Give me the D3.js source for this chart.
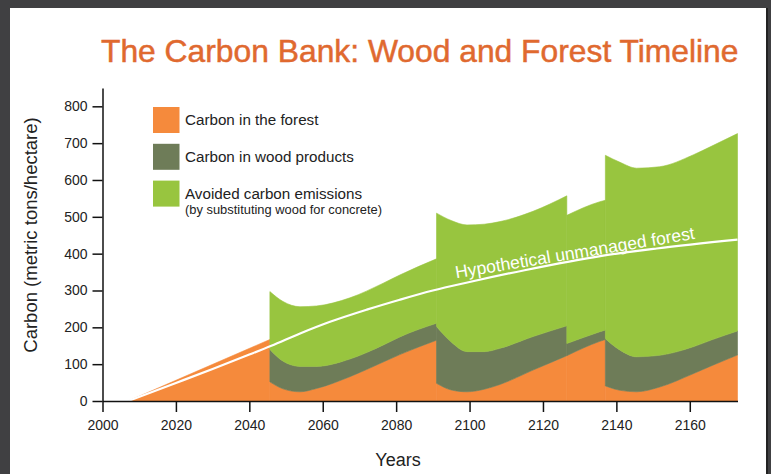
<!DOCTYPE html>
<html>
<head>
<meta charset="utf-8">
<script src="https://cdn.jsdelivr.net/npm/d3@7"></script>
<style>
  body { margin: 0; background: #404042; }
  svg { display: block; font-family: "Liberation Sans", Arial, Helvetica, sans-serif; }
</style>
</head>
<body>
<svg width="771" height="474"></svg>
<script>
// ---- data ----
// a year listed twice is a harvest: value just before, then just after
const years   = [2007, 2045.6, 2045.6, 2049.2, 2053.8, 2058.3, 2067.4, 2076.5, 2081, 2091,
                 2091, 2095, 2099.3, 2104, 2108.3, 2117.3, 2126.5, 2126.5, 2135.5, 2137,
                 2137, 2141, 2145.5, 2151.8, 2160.9, 2166, 2173];
const forest  = [0, 167, 52, 33, 25, 34, 66, 106, 126, 165,
                 48, 30, 25, 32, 45, 84, 123, 123, 162, 167,
                 41, 29, 25, 38, 74, 96, 125];
const wood    = [0, 0, 88, 75, 69, 60, 48, 46, 48, 46,
                 154, 130, 109, 102, 98, 91, 81, 33, 26, 26,
                 128, 109, 95, 86, 73, 70, 65];
const avoided = [0, 0, 157, 162, 162, 164, 166, 168, 168, 175,
                 308, 330, 344, 346, 344, 340, 353, 348, 353, 352,
                 498, 510, 512, 512, 521, 526, 536];

const unmanagedYears = [2007, 2020, 2030, 2040, 2046, 2054, 2062, 2072, 2081, 2090, 2100, 2115, 2136, 2151, 2173];
const unmanaged      = [0, 49, 87, 126, 150, 184, 215, 248, 275, 300, 323, 355, 394, 414, 438];

const xTicks = [2000, 2020, 2040, 2060, 2080, 2100, 2120, 2140, 2160];
const yTicks = [0, 100, 200, 300, 400, 500, 600, 700, 800];

const seriesKeys   = ["forest", "wood", "avoided"];
const seriesLabels = ["Carbon in the forest", "Carbon in wood products", "Avoided carbon emissions"];
const seriesColors = ["#F58A3C", "#6E7C58", "#98C53F"];

// ---- layout ----
const svg = d3.select("svg");
svg.append("rect").attr("x", 10).attr("y", 8).attr("width", 756).attr("height", 466).attr("fill", "#fff");
svg.append("rect").attr("x", 766).attr("y", 8).attr("width", 2).attr("height", 466).attr("fill", "#222");

const x = d3.scaleLinear().domain([2000, 2173]).range([102.5, 737.5]);
const y = d3.scaleLinear().domain([0, 850]).range([401, 87.9]);

const rows = years.map((yr, i) => ({year: yr, forest: forest[i], wood: wood[i], avoided: avoided[i]}));

// split at harvests so every growth period gets its own smooth stack
const segments = [];
let cur = [];
rows.forEach((r, i) => {
  if (i > 0 && r.year === rows[i - 1].year) { segments.push(cur); cur = []; }
  cur.push(r);
});
segments.push(cur);

const area = d3.area()
  .x(d => x(d.data.year))
  .y0(d => y(d[0]))
  .y1(d => y(d[1]))
  .curve(d3.curveMonotoneX);

const areas = svg.append("g");
segments.forEach(seg => {
  const stacked = d3.stack().keys(seriesKeys)(seg)
    .filter(layer => d3.max(seg, r => r[layer.key]) > 0);
  areas.append("g").selectAll("path")
    .data(stacked)
    .join("path")
    .attr("d", area)
    .attr("fill", d => seriesColors[d.index])
    .attr("stroke", d => seriesColors[d.index])
    .attr("stroke-width", 0.6);
});

// unmanaged forest line
const line = d3.line()
  .x(d => x(d[0]))
  .y(d => y(d[1]))
  .curve(d3.curveMonotoneX);
svg.append("path")
  .datum(unmanagedYears.map((yr, i) => [yr, unmanaged[i]]))
  .attr("d", line)
  .attr("fill", "none")
  .attr("stroke", "#fff")
  .attr("stroke-width", 2.2);

svg.append("text")
  .attr("transform", `translate(${x(2096.4)},${y(333)}) rotate(-9.4)`)
  .attr("fill", "#fff")
  .attr("font-size", "17.5px")
  .text("Hypothetical unmanaged forest");

// axes
const yAxis = svg.append("g")
  .attr("transform", `translate(${x(2000)},0)`)
  .call(d3.axisLeft(y).tickValues(yTicks).tickSize(10).tickSizeOuter(0).tickPadding(5));
const xAxis = svg.append("g")
  .attr("transform", `translate(0,${y(0)})`)
  .call(d3.axisBottom(x).tickValues(xTicks).tickSize(11).tickSizeOuter(0).tickPadding(8).tickFormat(d3.format("d")));
[xAxis, yAxis].forEach(a => {
  a.selectAll("path, line").attr("stroke", "#111").attr("stroke-width", 1.5);
  a.selectAll("text").attr("font-size", "14px").attr("fill", "#222")
    .attr("font-family", "'Liberation Sans', Arial, Helvetica, sans-serif");
});

// titles
svg.append("text")
  .attr("x", 101).attr("y", 62)
  .attr("fill", "#E0692F")
  .attr("stroke", "#E0692F")
  .attr("stroke-width", 0.5)
  .attr("font-size", "31.8px")
  .text("The Carbon Bank: Wood and Forest Timeline");

svg.append("text")
  .attr("transform", "translate(37,235) rotate(-90)")
  .attr("text-anchor", "middle")
  .attr("font-size", "18.5px")
  .attr("fill", "#222")
  .text("Carbon (metric tons/hectare)");

svg.append("text")
  .attr("x", 398).attr("y", 466)
  .attr("text-anchor", "middle")
  .attr("font-size", "18px")
  .attr("fill", "#222")
  .text("Years");

// legend
const legend = svg.append("g").attr("transform", "translate(153,107)");
const item = legend.selectAll("g")
  .data(seriesLabels)
  .join("g")
  .attr("transform", (d, i) => `translate(0,${i * 36.8})`);
item.append("rect").attr("width", 26.5).attr("height", 26).attr("fill", (d, i) => seriesColors[i]);
item.append("text").attr("x", 32).attr("y", 18.3).attr("font-size", "15.2px").attr("fill", "#222").text(d => d);
legend.append("text")
  .attr("x", 32).attr("y", 2 * 36.8 + 33.5)
  .attr("font-size", "12.9px").attr("fill", "#222")
  .text("(by substituting wood for concrete)");
</script>
</body>
</html>
